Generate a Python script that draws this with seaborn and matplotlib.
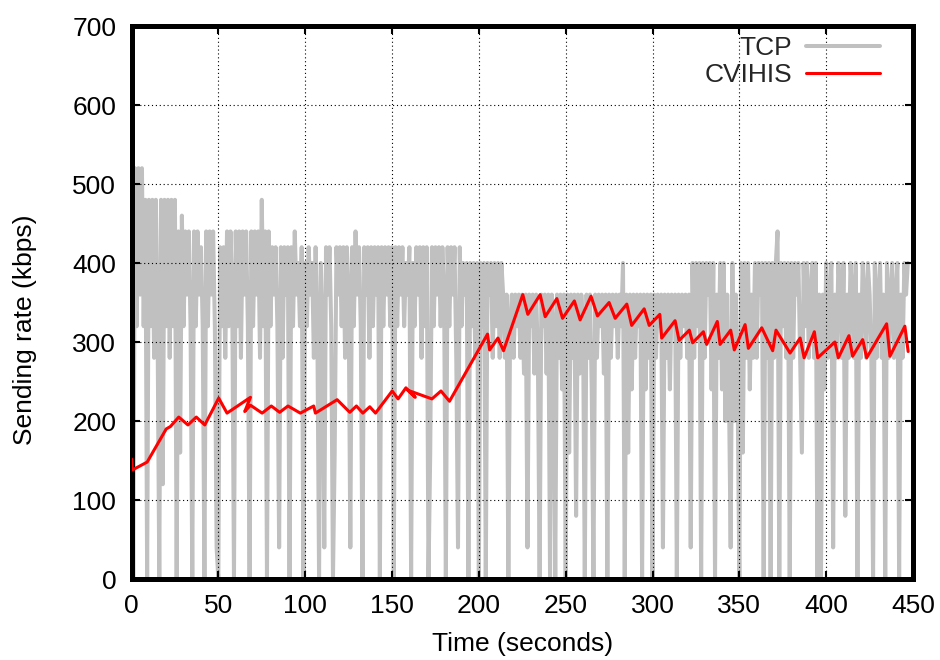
import numpy as np
import pandas as pd
import matplotlib
matplotlib.use("Agg")
import matplotlib.pyplot as plt
import seaborn as sns

# TCP sending rate, one sample per second (kbps)
tcp_rate = [
    360, 0, 520, 320, 520, 360, 520, 320, 480, 0,
    480, 320, 480, 280, 480, 320, 0, 480, 120, 480,
    320, 480, 280, 480, 320, 480, 0, 440, 160, 460,
    320, 440, 360, 440, 320, 0, 440, 320, 440, 360,
    420, 320, 0, 440, 320, 440, 360, 440, 320, 40,
    0, 420, 320, 420, 280, 440, 320, 440, 360, 0,
    440, 320, 440, 280, 440, 360, 440, 320, 0, 440,
    320, 440, 360, 440, 280, 480, 320, 440, 0, 440,
    320, 420, 360, 420, 320, 40, 420, 280, 420, 360,
    420, 0, 420, 320, 440, 360, 400, 320, 420, 0,
    400, 320, 420, 360, 400, 280, 420, 320, 0, 400,
    320, 40, 420, 360, 420, 320, 0, 160, 420, 360,
    420, 320, 420, 280, 420, 360, 40, 420, 320, 440,
    360, 420, 320, 0, 420, 360, 420, 280, 420, 320,
    420, 360, 420, 0, 420, 320, 420, 360, 420, 320,
    420, 0, 420, 320, 420, 360, 420, 320, 400, 360,
    420, 0, 400, 320, 420, 360, 420, 280, 420, 320,
    420, 0, 160, 420, 320, 420, 360, 420, 320, 420,
    360, 0, 420, 320, 420, 360, 420, 280, 40, 420,
    320, 400, 360, 400, 0, 400, 320, 400, 280, 400,
    0, 400, 320, 400, 0, 400, 360, 400, 280, 400,
    320, 400, 280, 400, 360, 280, 360, 0, 320, 360,
    280, 360, 320, 360, 280, 360, 260, 360, 40, 360,
    320, 360, 260, 360, 280, 0, 360, 320, 360, 260,
    360, 0, 360, 320, 0, 360, 280, 360, 240, 360,
    0, 360, 160, 360, 280, 360, 80, 360, 260, 360,
    320, 0, 360, 280, 360, 240, 0, 360, 280, 360,
    320, 360, 260, 360, 0, 360, 280, 360, 320, 360,
    280, 360, 320, 400, 0, 360, 160, 360, 240, 360,
    280, 360, 320, 360, 0, 360, 240, 360, 280, 360,
    0, 360, 280, 360, 320, 360, 40, 360, 280, 360,
    240, 360, 320, 360, 0, 360, 280, 360, 320, 360,
    280, 360, 40, 400, 280, 400, 320, 400, 0, 400,
    280, 400, 360, 400, 240, 400, 0, 360, 280, 400,
    240, 400, 200, 360, 240, 40, 400, 200, 360, 240,
    0, 400, 160, 400, 280, 400, 240, 360, 280, 400,
    280, 400, 360, 400, 0, 400, 280, 400, 0, 400,
    280, 400, 440, 0, 400, 320, 400, 280, 400, 0,
    400, 280, 400, 360, 400, 280, 160, 400, 320, 400,
    280, 360, 400, 280, 400, 0, 360, 0, 360, 240,
    400, 280, 360, 400, 40, 360, 280, 400, 360, 280,
    400, 80, 360, 280, 400, 360, 280, 400, 0, 360,
    280, 400, 360, 280, 400, 360, 280, 0, 400, 280,
    360, 400, 280, 360, 0, 400, 280, 360, 400, 280,
    360, 400, 0, 360, 280, 400, 360, 400,
]
tcp_time = np.arange(len(tcp_rate))

# CVIHIS rate-control trace (seconds, kbps)
cvihis_time = [
    0, 0.5, 9, 20, 22.4, 27.2, 32.5, 37.3, 42.2, 50.2, 55, 68.5, 65.2, 68.5,
    75.2, 80.5, 85.3, 90.1, 97.2, 104.9, 105.9, 118.4, 125.7, 129.5, 133.2,
    137.2, 140.5, 150.1, 153.5, 158, 163.4, 159, 173, 178.2, 183.1, 205,
    206.2, 211, 214.2, 225.3, 228.2, 235.3, 238.2, 244.9, 248.2, 255, 258.3,
    264.6, 268.3, 275, 278.5, 285.2, 288, 295.2, 298.1, 304.2, 305.3, 313,
    315.3, 321.2, 323.1, 329.3, 331.2, 337.3, 338.9, 345, 347.1, 353.3,
    355.2, 362.9, 369.2, 371.1, 379.2, 385, 387.3, 393.2, 395.1, 405, 407,
    413.1, 415.2, 421, 423.3, 434.8, 436.7, 445.3, 447.2,
]
cvihis_rate = [
    152, 138, 148, 190, 193, 205, 195, 205, 195, 229, 210, 230, 212, 220,
    210, 219, 211, 219, 210, 219, 210, 227, 211, 219, 210,
    218, 210, 238, 228, 242, 230, 239, 228, 238, 225, 310,
    290, 305, 289, 360, 335, 360, 332, 355, 330, 352, 328,
    358, 333, 350, 330, 348, 321, 342, 321, 335, 305, 327,
    302, 315, 299, 313, 297, 326, 297, 315, 290, 322,
    292, 318, 289, 315, 286, 305, 280, 313, 280, 300, 280,
    308, 282, 303, 280, 323, 282, 320, 288,
]

x_ticks = [0, 50, 100, 150, 200, 250, 300, 350, 400, 450]
y_ticks = [0, 100, 200, 300, 400, 500, 600, 700]

tcp_df = pd.DataFrame({"time": tcp_time, "rate": tcp_rate})
cv_df = pd.DataFrame({"time": cvihis_time, "rate": cvihis_rate})

sns.set_theme(style="white")
plt.rcParams["font.family"] = ["Liberation Sans", "DejaVu Sans"]

fig = plt.figure(figsize=(9.4, 6.6), dpi=100)
ax = fig.add_axes([0.1399, 0.1227, 0.8314, 0.8379])

sns.lineplot(data=tcp_df, x="time", y="rate", ax=ax, color="#c0c0c0",
             linewidth=2.9, sort=False, estimator=None, label="TCP", zorder=2)
sns.lineplot(data=cv_df, x="time", y="rate", ax=ax, color="#ff0000",
             linewidth=2.2, sort=False, estimator=None, label="CVIHIS", zorder=3)

ax.set_xlim(0, 450)
ax.set_ylim(0, 700)
ax.set_xticks(x_ticks)
ax.set_yticks(y_ticks)
ax.tick_params(axis="both", which="major", direction="in", length=6, width=1.5,
               labelsize=19, colors="black", pad=11,
               top=True, right=True, bottom=True, left=True)

ax.set_axisbelow(False)
ax.grid(True, color="black", linestyle=(0, (1, 2.5)), linewidth=0.8)

for side in ax.spines.values():
    side.set_linewidth(3.6)
    side.set_color("black")

ax.set_xlabel("Time (seconds)", fontsize=19, color="black")
ax.set_ylabel("Sending rate (kbps)", fontsize=19, color="black")
ax.xaxis.set_label_coords(0.5, -0.095)
ax.yaxis.set_label_coords(-0.121, 0.45)

ax.legend(loc="upper right", bbox_to_anchor=(0.958, 0.982), frameon=False,
          markerfirst=False, fontsize=19, handlelength=2.8, handletextpad=0.55,
          labelspacing=0.12, borderpad=0, borderaxespad=0)

fig.savefig("out.png", dpi=100)
